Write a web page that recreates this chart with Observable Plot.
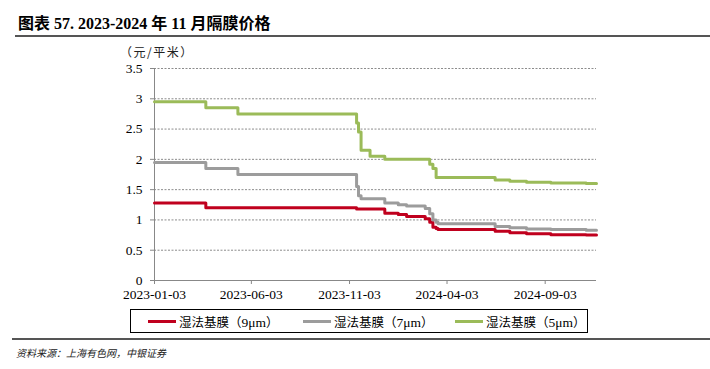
<!DOCTYPE html>
<html><head><meta charset="utf-8">
<script src="https://cdn.jsdelivr.net/npm/d3@7"></script>
<script src="https://cdn.jsdelivr.net/npm/@observablehq/plot@0.6"></script>
<style>
body{margin:0;background:#fff;}
#wrap{position:relative;width:710px;height:369px;overflow:hidden;font-family:"Liberation Serif","Noto Sans CJK SC",serif;color:#000;}
#title{position:absolute;left:18px;top:10px;font-size:16px;font-weight:bold;white-space:nowrap;}
.rule{position:absolute;left:15px;right:0;height:2px;background:#555;}
#unit{position:absolute;left:120px;top:43px;font-size:12px;letter-spacing:1.5px;font-family:"Noto Sans CJK SC",sans-serif;white-space:nowrap;color:#222;}
#chart{position:absolute;left:0;top:40px;}
#legend{position:absolute;left:130px;top:309px;width:456px;height:22px;border:1px solid #000;display:flex;align-items:center;font-size:13px;}
.item{position:absolute;top:0;height:22px;display:flex;align-items:center;white-space:nowrap;}
.sw{display:inline-block;width:28px;height:3px;margin-right:3px;}
.lab{font-family:"Noto Sans CJK SC",sans-serif;font-size:12.5px;}
.lab span{font-family:"Liberation Serif",serif;font-size:13.5px;}
#source{position:absolute;left:16px;top:345px;font-size:10px;font-style:italic;font-family:"Noto Sans CJK SC",sans-serif;white-space:nowrap;color:#222;}
</style></head><body>
<div id="wrap">
  <div id="title">图表 57. 2023-2024 年 11 月隔膜价格</div>
  <div class="rule" style="top:35px"></div>
  <div id="unit">（元/平米）</div>
  <div id="chart"></div>
  <div id="legend"></div>
  <div class="rule" style="top:338px;left:12px"></div>
  <div id="source">资料来源：上海有色网，中银证券</div>
</div>
<script>
const dates = ["2023-01-03","2023-03-24","2023-05-13","2023-11-14","2023-11-17","2023-11-21","2023-12-05","2023-12-28","2024-01-18","2024-01-31","2024-02-29","2024-03-07","2024-03-12","2024-03-17","2024-03-20","2024-06-17","2024-07-10","2024-08-05","2024-09-12","2024-11-06","2024-11-22"];
const wet9 = [1.28,1.2,1.2,1.18,1.18,1.18,1.18,1.11,1.09,1.055,1.02,0.96,0.88,0.86,0.84,0.815,0.79,0.77,0.755,0.75,0.75];
const wet7 = [1.95,1.85,1.75,1.55,1.4,1.35,1.35,1.28,1.25,1.23,1.19,1.1,1.0,0.96,0.935,0.89,0.87,0.85,0.84,0.83,0.83];
const wet5 = [2.95,2.85,2.75,2.6,2.45,2.15,2.05,2.0,2.0,2.0,2.0,1.92,1.85,1.7,1.7,1.66,1.64,1.62,1.61,1.6,1.6];
const seriesNames = ["湿法基膜（9μm）","湿法基膜（7μm）","湿法基膜（5μm）"];
const seriesColors = ["#C0001E","#9C9C9C","#9BBB59"];
const yTicks = [0,0.5,1,1.5,2,2.5,3,3.5];
const xTickLabels = ["2023-01-03","2023-06-03","2023-11-03","2024-04-03","2024-09-03"];

const rows = [];
[wet9, wet7, wet5].forEach((vals, i) => dates.forEach((d, j) => rows.push({date: new Date(d), value: vals[j], series: seriesNames[i]})));
const x0 = new Date(dates[0]), x1 = new Date(dates[dates.length - 1]);

const chart = Plot.plot({
  width: 710, height: 270,
  marginLeft: 154, marginRight: 114, marginTop: 28, marginBottom: 30,
  x: {type: "utc", domain: [x0, x1]},
  y: {domain: [0, 3.5]},
  color: {domain: seriesNames, range: seriesColors},
  style: {fontFamily: "Liberation Serif, serif", fontSize: "13.5px", color: "#000", background: "transparent", overflow: "visible"},
  marks: [
    Plot.ruleY(yTicks.slice(1), {stroke: "#8c8c8c", strokeDasharray: "2,1.5", strokeWidth: 1}),
    Plot.ruleY([0], {stroke: "#888"}),
    Plot.ruleX([x0], {stroke: "#888"}),
    Plot.axisY({ticks: yTicks, tickSize: 4, tickPadding: 8, label: null, stroke: "#888", fill: "#000", tickFormat: d => String(d)}),
    Plot.axisX({ticks: xTickLabels.map(s => new Date(s)), tickFormat: d3.utcFormat("%Y-%m-%d"), tickSize: 4, tickPadding: 5, label: null, stroke: "#888", fill: "#000"}),
    Plot.line(rows, {x: "date", y: "value", z: "series", stroke: "series", strokeWidth: 3, curve: "step-after"})
  ]
});
document.getElementById("chart").appendChild(chart);

const legend = document.getElementById("legend");
const itemLefts = [17, 172, 324];
seriesNames.forEach((name, i) => {
  const it = document.createElement("div");
  it.className = "item";
  it.style.left = itemLefts[i] + "px";
  const m = name.match(/^(.*?)（(.*)）$/);
  it.innerHTML = `<span class="sw" style="background:${seriesColors[i]}"></span><span class="lab">${m[1]}（<span>${m[2]}</span>）</span>`;
  legend.appendChild(it);
});
</script>
</body></html>
